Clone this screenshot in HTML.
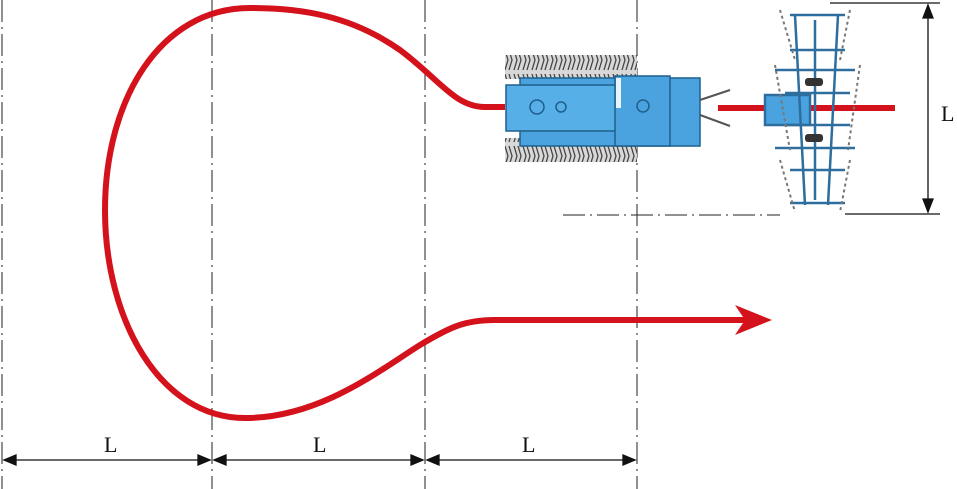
<!DOCTYPE html>
<html><head><meta charset="utf-8"><style>body{margin:0;background:#fff}svg{display:block}</style></head><body>
<svg width="957" height="489" viewBox="0 0 957 489" xmlns="http://www.w3.org/2000/svg">
<defs>
<pattern id="tr" width="9" height="24" patternUnits="userSpaceOnUse">
<rect width="9" height="24" fill="#d8d8d8"/>
<path d="M1 2 L4 12 L1 22 M5 2 L8 12 L5 22" stroke="#444" stroke-width="1.3" fill="none"/>
</pattern>
</defs>
<g stroke="#222" stroke-width="1" stroke-dasharray="22,5,2,5" fill="none">
<line x1="2" y1="0" x2="2" y2="489"/>
<line x1="212" y1="0" x2="212" y2="489"/>
<line x1="425" y1="0" x2="425" y2="489"/>
<line x1="637" y1="0" x2="637" y2="489"/>
<line x1="563" y1="215" x2="780" y2="215"/>
</g>
<g stroke="#111" stroke-width="1.3" fill="#111">
<line x1="4" y1="460" x2="210" y2="460"/>
<line x1="214" y1="460" x2="423" y2="460"/>
<line x1="427" y1="460" x2="635" y2="460"/>
<path d="M4 460 l12 -5 v10z M210 460 l-12 -5 v10z M214 460 l12 -5 v10z M423 460 l-12 -5 v10z M427 460 l12 -5 v10z M635 460 l-12 -5 v10z"/>
<line x1="830" y1="3" x2="940" y2="3"/>
<line x1="845" y1="214" x2="940" y2="214"/>
<line x1="928" y1="5" x2="928" y2="212"/>
<path d="M928 5 l-5 13 h10z M928 212 l-5 -13 h10z"/>
</g>
<g font-family="Liberation Serif, serif" font-size="22" fill="#111">
<text x="104" y="452">L</text><text x="313" y="452">L</text><text x="522" y="452">L</text><text x="941" y="121">L</text>
</g>
<path d="M505 107 H485 C455 107 440 80 400 50 C350 15 300 8 250 8 C160 8 105 100 105 210 C105 320 160 418 245 418 C320 418 380 370 420 345 C450 327 465 320 495 320 H745" stroke="#d4121c" stroke-width="6" fill="none"/>
<path d="M772 320 L735 305 L745 320 L735 335Z" fill="#d4121c"/>
<rect x="505" y="55" width="132" height="24" fill="url(#tr)"/>
<rect x="505" y="138" width="132" height="24" fill="url(#tr)"/>
<rect x="520" y="78" width="180" height="68" fill="#4aa3df" stroke="#1f5f8c" stroke-width="1.5"/>
<rect x="506" y="85" width="120" height="46" fill="#56afe6" stroke="#1f5f8c" stroke-width="1.5"/>
<rect x="615" y="76" width="55" height="70" fill="#4aa3df" stroke="#1f5f8c" stroke-width="1.5"/>
<rect x="616" y="78" width="5" height="30" fill="#e8f4fb"/>
<circle cx="537" cy="107" r="7" fill="none" stroke="#1f5f8c" stroke-width="1.5"/>
<circle cx="561" cy="107" r="5" fill="none" stroke="#1f5f8c" stroke-width="1.5"/>
<circle cx="643" cy="106" r="6" fill="none" stroke="#1f5f8c" stroke-width="1.5"/>
<path d="M700 100 L730 90 M700 115 L730 126" stroke="#555" stroke-width="2"/>
<line x1="718" y1="108" x2="895" y2="108" stroke="#d4121c" stroke-width="6"/>
<g stroke="#2d6e9e" stroke-width="2.5" fill="none">
<rect x="765" y="95" width="45" height="30" fill="#4aa3df"/>
<line x1="795" y1="15" x2="805" y2="205"/>
<line x1="838" y1="15" x2="828" y2="205"/>
<line x1="790" y1="15" x2="845" y2="15"/>
<line x1="790" y1="50" x2="845" y2="50"/>
<line x1="775" y1="70" x2="855" y2="70"/>
<line x1="785" y1="93" x2="850" y2="93"/>
<line x1="785" y1="125" x2="850" y2="125"/>
<line x1="775" y1="148" x2="855" y2="148"/>
<line x1="790" y1="170" x2="845" y2="170"/>
<line x1="790" y1="203" x2="845" y2="203"/>
<line x1="815" y1="20" x2="815" y2="200"/>
</g>
<g stroke="#777" stroke-width="2" fill="none" stroke-dasharray="3,3">
<line x1="780" y1="10" x2="795" y2="60"/><line x1="850" y1="10" x2="840" y2="60"/>
<line x1="775" y1="65" x2="790" y2="150"/><line x1="860" y1="65" x2="848" y2="150"/>
<line x1="780" y1="160" x2="795" y2="212"/><line x1="850" y1="160" x2="840" y2="212"/>
</g>
<rect x="805" y="78" width="18" height="8" rx="3" fill="#333"/>
<rect x="805" y="134" width="18" height="8" rx="3" fill="#333"/>
</svg>
</body></html>
